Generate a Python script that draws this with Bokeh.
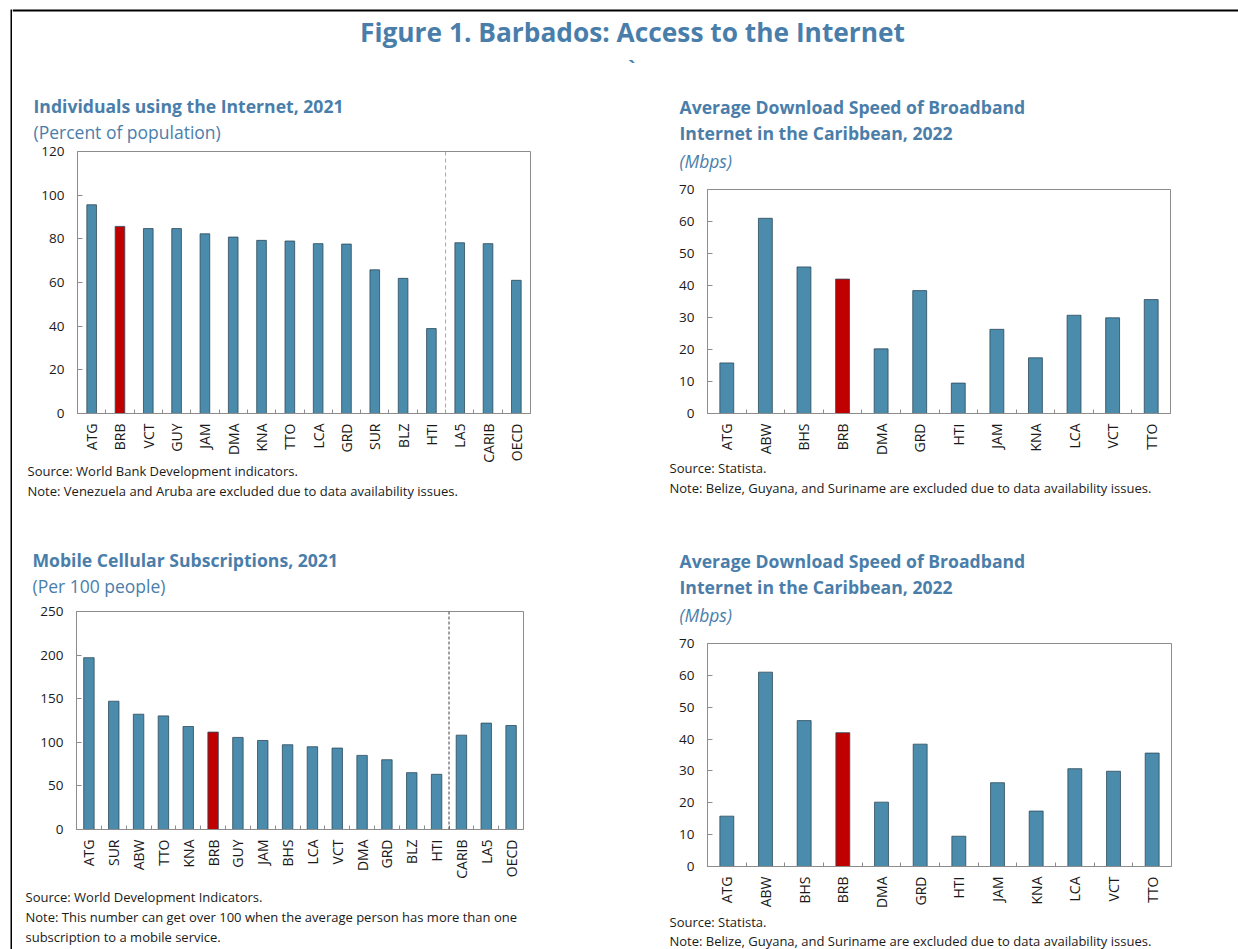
import math
from bokeh.plotting import figure
from bokeh.layouts import row, column
from bokeh.models import Label, Span, FixedTicker, ColumnDataSource, Range1d, BoxAnnotation
from bokeh.embed import file_html
from bokeh.resources import INLINE

FONT = "Open Sans"
TITLE_BLUE = "#4A7EAA"
BAR_BLUE = "#4B8BAC"
BRB_RED = "#C00000"
TEXT = "#1a1a1a"
GRAY = "#8c8c8c"

# ---------------- data ----------------
internet_countries = ["ATG", "BRB", "VCT", "GUY", "JAM", "DMA", "KNA", "TTO", "LCA", "GRD",
                      "SUR", "BLZ", "HTI", "LA5", "CARIB", "OECD"]
internet_values = [95.6, 85.7, 84.7, 84.7, 82.3, 80.8, 79.3, 79.0, 77.8, 77.6,
                   65.8, 61.9, 38.9, 78.2, 77.8, 61.0]

speed_countries = ["ATG", "ABW", "BHS", "BRB", "DMA", "GRD", "HTI", "JAM", "KNA", "LCA", "VCT", "TTO"]
speed_values = [15.8, 61.0, 45.8, 42.0, 20.2, 38.4, 9.5, 26.3, 17.4, 30.7, 29.9, 35.6]

mobile_countries = ["ATG", "SUR", "ABW", "TTO", "KNA", "BRB", "GUY", "JAM", "BHS", "LCA",
                    "VCT", "DMA", "GRD", "BLZ", "HTI", "CARIB", "LA5", "OECD"]
mobile_values = [197.0, 147.1, 132.2, 130.3, 118.1, 111.7, 105.6, 102.1, 97.2, 94.9,
                 93.4, 85.0, 80.0, 65.2, 63.3, 108.2, 122.0, 119.3]

y_ticks_internet = [0, 20, 40, 60, 80, 100, 120]
y_ticks_speed = [0, 10, 20, 30, 40, 50, 60, 70]
y_ticks_mobile = [0, 50, 100, 150, 200, 250]


def blank(width, height, transparent=False):
    p = figure(width=width, height=height, output_backend="svg", toolbar_location=None,
               x_range=Range1d(0, width), y_range=Range1d(0, height),
               x_axis_location=None, y_axis_location=None, min_border=0)
    p.outline_line_color = None
    p.grid.visible = False
    p.background_fill_color = "white"
    p.border_fill_color = "white"
    if transparent:
        p.background_fill_alpha = 0
        p.border_fill_alpha = 0
    return p


def text_fig(width, height, items, overlap=0):
    """items: (text, x, y_from_top, size, style, color, baseline)"""
    p = blank(width, height, transparent=overlap > 0)
    for text, x, ytop, size, style, color, base in items:
        p.add_layout(Label(x=x, y=height - ytop, text=text, text_font=FONT,
                           text_font_size=size, text_font_style=style, text_color=color,
                           text_align="left", text_baseline=base))
    if overlap > 0:
        return column(p, margin=(-overlap, 0, 0, 0))
    return column(p)


def chart(cats, vals, yticks, width, height, bl, br, bt, bb, bar_width, sep=None,
          sep_color=GRAY, sep_dash="4 3"):
    n = len(cats)
    p = figure(width=width, height=height, output_backend="svg", toolbar_location=None,
               x_range=Range1d(-0.5, n - 0.5), y_range=Range1d(yticks[0], yticks[-1]),
               min_border_left=bl, min_border_right=br, min_border_top=bt, min_border_bottom=bb)
    p.background_fill_color = "white"
    p.border_fill_color = "white"
    p.outline_line_color = GRAY
    p.outline_line_width = 1
    p.grid.visible = False

    xs = list(range(n))
    colors = [BRB_RED if c == "BRB" else BAR_BLUE for c in cats]
    src = ColumnDataSource(dict(x=xs, top=vals, color=colors))
    p.vbar(x="x", top="top", bottom=0, width=bar_width, source=src,
           fill_color="color", line_color="#2d4a5a", line_width=0.8)

    xa = p.xaxis[0]
    xa.ticker = FixedTicker(ticks=xs, minor_ticks=[i + 0.5 for i in range(n - 1)])
    xa.major_label_overrides = {i: c for i, c in enumerate(cats)}
    xa.major_label_orientation = math.pi / 2
    xa.major_tick_in = 0
    xa.major_tick_out = 0
    xa.minor_tick_in = 4
    xa.minor_tick_out = 0
    xa.minor_tick_line_color = GRAY
    xa.axis_line_color = GRAY
    xa.major_label_standoff = 10
    xa.major_label_text_font = FONT
    xa.major_label_text_font_size = "14px"
    xa.major_label_text_color = TEXT

    ya = p.yaxis[0]
    ya.ticker = FixedTicker(ticks=yticks)
    ya.major_tick_in = 5
    ya.major_tick_out = 0
    ya.major_tick_line_color = GRAY
    ya.minor_tick_line_color = None
    ya.axis_line_color = GRAY
    ya.major_label_standoff = 13
    ya.major_label_text_font = FONT
    ya.major_label_text_font_size = "13.5px"
    ya.major_label_text_color = TEXT

    if sep is not None:
        p.add_layout(Span(location=sep, dimension="height", line_color=sep_color,
                          line_dash=sep_dash, line_width=1))
    return p


B, R, I, A = "bold", "normal", "italic", "alphabetic"
TS, SS, NS = "17.6px", "17.5px", "13px"

# ---------------- header & border ----------------
header = blank(1226, 84)
header.add_layout(Span(location=74, dimension="width", line_color="black", line_width=2))
header.add_layout(Label(x=620, y=53, text="Figure 1. Barbados: Access to the Internet",
                        text_font=FONT, text_font_size="26.3px", text_font_style="bold",
                        text_color=TITLE_BLUE, text_align="center", text_baseline="middle"))
header.add_layout(Label(x=619, y=17, text="`", text_font=FONT, text_font_size="20px",
                        text_font_style="bold", text_color=TITLE_BLUE,
                        text_align="center", text_baseline="middle"))

strip = blank(12, 949)
strip.add_layout(BoxAnnotation(left=10, right=12, bottom=0, top=940, fill_color="black",
                               fill_alpha=1, line_color=None))

# ---------------- panel 1 ----------------
t1 = text_fig(616, 59, [
    ("Individuals using the Internet, 2021", 21, 21, TS, B, TITLE_BLUE, "middle"),
    ("(Percent of population)", 21, 47, SS, R, TITLE_BLUE, "middle"),
])
c1 = chart(internet_countries, internet_values, y_ticks_internet, 616, 322,
           65, 98, 8, 50, 0.34, sep=12.5, sep_color="#a6a6a6", sep_dash="4 3")
n1 = text_fig(616, 57, [
    ("Source: World Bank Development indicators.", 15, 15, NS, R, TEXT, A),
    ("Note: Venezuela and Aruba are excluded due to data availability issues.", 15, 35, NS, R, TEXT, A),
], overlap=10)
panel1 = column(t1, c1, n1)

# ---------------- panel 2 ----------------
t2 = text_fig(610, 92, [
    ("Average Download Speed of Broadband", 51, 22, TS, B, TITLE_BLUE, "middle"),
    ("Internet in the Caribbean, 2022", 51, 48.7, TS, B, TITLE_BLUE, "middle"),
    ("(Mbps)", 51, 76, SS, I, TITLE_BLUE, "middle"),
])
c2 = chart(speed_countries, speed_values, y_ticks_speed, 610, 286,
           79, 68, 13, 49, 0.36)
n2 = text_fig(610, 58, [
    ("Source: Statista.", 41, 13, NS, R, TEXT, A),
    ("Note: Belize, Guyana, and Suriname are excluded due to data availability issues.", 41, 33, NS, R, TEXT, A),
], overlap=8)
panel2 = column(t2, c2, n2)

# ---------------- panel 3 ----------------
t3 = text_fig(616, 85, [
    ("Mobile Cellular Subscriptions, 2021", 20, 47, TS, B, TITLE_BLUE, "middle"),
    ("(Per 100 people)", 20, 73, SS, R, TITLE_BLUE, "middle"),
])
c3 = chart(mobile_countries, mobile_values, y_ticks_mobile, 616, 284,
           64, 105, 14, 51, 0.42, sep=14.5, sep_color="#404040", sep_dash="3 2")
n3 = text_fig(616, 68, [
    ("Source: World Development Indicators.", 13, 15, NS, R, TEXT, A),
    ("Note: This number can get over 100 when the average person has more than one", 13, 35, NS, R, TEXT, A),
    ("subscription to a mobile service.", 13, 55, NS, R, TEXT, A),
])
panel3 = column(t3, c3, n3)

# ---------------- panel 4 ----------------
t4 = text_fig(610, 118, [
    ("Average Download Speed of Broadband", 51, 48, TS, B, TITLE_BLUE, "middle"),
    ("Internet in the Caribbean, 2022", 51, 74.7, TS, B, TITLE_BLUE, "middle"),
    ("(Mbps)", 51, 102, SS, I, TITLE_BLUE, "middle"),
])
c4 = chart(speed_countries, speed_values, y_ticks_speed, 610, 286,
           79, 67, 13, 50, 0.36)
n4 = text_fig(610, 39, [
    ("Source: Statista.", 41, 11, NS, R, TEXT, A),
    ("Note: Belize, Guyana, and Suriname are excluded due to data availability issues.", 41, 30.5, NS, R, TEXT, A),
], overlap=6)
panel4 = column(t4, c4, n4)

layout = row(strip, column(header, row(panel1, panel2), row(panel3, panel4)))

with open("out.html", "w") as f:
    f.write(file_html(layout, INLINE))
